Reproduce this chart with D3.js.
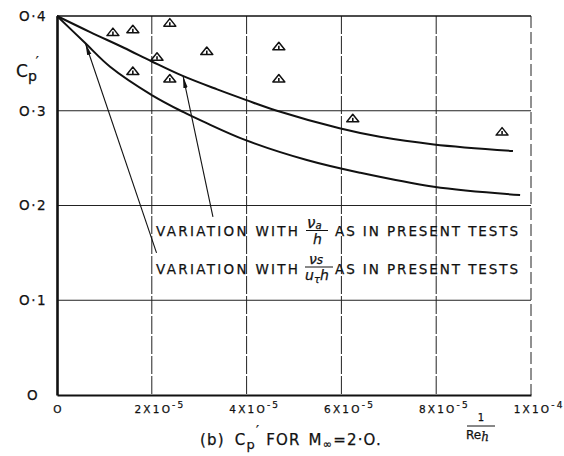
<!DOCTYPE html>
<html><head><meta charset="utf-8">
<script src="https://cdn.jsdelivr.net/npm/d3@7"></script>
<style>body{margin:0;background:#fff}svg{display:block}text{font-family:"DejaVu Sans",sans-serif;fill:#111;stroke:#111;stroke-width:0.25}</style>
</head><body><svg id="c" width="564" height="456"></svg>
<script>
// ---- data ----
const xTicks = [0, 2e-5, 4e-5, 6e-5, 8e-5, 1e-4];
const xTickBase = ["O", "2X1O", "4X1O", "6X1O", "8X1O", "1X1O"];
const xTickExp  = ["", "-5", "-5", "-5", "-5", "-4"];
const yTicks = [0, 0.1, 0.2, 0.3, 0.4];
const yTickLabels = ["O", "O·1", "O·2", "O·3", "O·4"];

// measured points (triangles)
const ptX = [1.18e-5, 1.60e-5, 2.38e-5, 2.11e-5, 1.60e-5, 2.38e-5, 3.16e-5, 4.68e-5, 4.68e-5, 6.24e-5, 9.39e-5];
const ptY = [0.383, 0.386, 0.393, 0.357, 0.342, 0.334, 0.363, 0.368, 0.334, 0.292, 0.278];

// curve: variation with nu_a/h
const upX = [0, 0.70e-5, 1.41e-5, 2.0e-5, 2.64e-5, 3.38e-5, 3.98e-5, 4.64e-5, 5.96e-5, 6.81e-5, 7.95e-5, 9.62e-5];
const upY = [0.4, 0.383, 0.3665, 0.352, 0.337, 0.3225, 0.3115, 0.300, 0.2815, 0.2725, 0.2645, 0.2575];
// curve: variation with nu_s/(u_tau h)
const loX = [0, 0.60e-5, 1.12e-5, 2.0e-5, 2.67e-5, 3.09e-5, 3.98e-5, 5.27e-5, 6.39e-5, 7.95e-5, 9.77e-5];
const loY = [0.4, 0.3712, 0.3465, 0.3166, 0.2985, 0.2885, 0.269, 0.248, 0.2346, 0.2198, 0.211];

// annotation arrows: [tailX, tailY, tipX, tipY]
const arrowLower = [2.10e-5, 0.150, 0.60e-5, 0.3712];
const arrowUpper = [3.29e-5, 0.188, 2.66e-5, 0.3365];

// ---- chart ----
const svg = d3.select("#c");
const x = d3.scaleLinear().domain([0, 1e-4]).range([57, 531]);
const y = d3.scaleLinear().domain([0, 0.4]).range([395, 16]);

const defs = svg.append("defs");
defs.append("marker").attr("id","ah").attr("viewBox","0 -3 12 6")
  .attr("refX",12).attr("refY",0).attr("markerWidth",12).attr("markerHeight",6)
  .attr("markerUnits","userSpaceOnUse").attr("orient","auto")
  .append("path").attr("d","M0,-2.2L12,0L0,2.2Z").attr("fill","#111");

// grid
const g = svg.append("g");
g.selectAll(".hg").data(yTicks.filter(d => d > 0 && d < 0.4)).join("line")
  .attr("x1", x(0)).attr("x2", x(1e-4)).attr("y1", d => y(d)).attr("y2", d => y(d))
  .attr("stroke", "#222").attr("stroke-width", 1);
g.selectAll(".vg").data(xTicks.filter(d => d > 0 && d < 1e-4)).join("line")
  .attr("x1", d => x(d)).attr("x2", d => x(d)).attr("y1", y(0.4)).attr("y2", y(0))
  .attr("stroke", "#222").attr("stroke-width", 1).attr("stroke-dasharray", "18,2");
// top & right border
g.append("line").attr("x1", x(0)).attr("x2", x(1e-4)).attr("y1", y(0.4)).attr("y2", y(0.4))
  .attr("stroke", "#111").attr("stroke-width", 1.6);
g.append("line").attr("x1", x(1e-4)).attr("x2", x(1e-4)).attr("y1", y(0.4)).attr("y2", y(0))
  .attr("stroke", "#222").attr("stroke-width", 1).attr("stroke-dasharray", "12,4");

// axes
const yAxis = svg.append("g").attr("transform", `translate(${x(0)},0)`)
  .call(d3.axisLeft(y).tickValues(yTicks).tickSize(0).tickSizeOuter(0)
    .tickFormat((d, i) => yTickLabels[i]));
yAxis.select(".domain").attr("stroke", "#111").attr("stroke-width", 2.6);
yAxis.selectAll(".tick text").attr("x", -24).attr("text-anchor", "middle")
  .attr("font-size", 13.5).attr("letter-spacing", 1.5)
  .attr("font-family", "DejaVu Sans").attr("fill", "#111");

const xAxis = svg.append("g").attr("transform", `translate(0,${y(0)})`)
  .call(d3.axisBottom(x).tickValues(xTicks).tickSize(0).tickSizeOuter(0).tickFormat(""));
xAxis.select(".domain").attr("stroke", "#111").attr("stroke-width", 2.2);
xAxis.selectAll(".tick").each(function(d, i) {
  const t = d3.select(this).append("text").attr("y", 18).attr("font-size", 10.5)
    .attr("letter-spacing", 2.2).attr("fill", "#111").attr("text-anchor", "start")
    .attr("font-family", "DejaVu Sans");
  t.append("tspan").text(xTickBase[i]);
  if (xTickExp[i]) t.append("tspan").attr("dy", -5).attr("font-size", 9).text(xTickExp[i]);
  const bw = t.select("tspan").node().getComputedTextLength();
  t.attr("x", -bw / 2 + 1);
});

// curves
const line = d3.line().x(d => x(d[0])).y(d => y(d[1])).curve(d3.curveCatmullRom.alpha(0.5));
svg.append("path").datum(d3.zip(upX, upY)).attr("d", line)
  .attr("fill", "none").attr("stroke", "#111").attr("stroke-width", 2);
svg.append("path").datum(d3.zip(loX, loY)).attr("d", line)
  .attr("fill", "none").attr("stroke", "#111").attr("stroke-width", 2);

// arrows
[arrowLower, arrowUpper].forEach(a => {
  svg.append("line").attr("x1", x(a[0])).attr("y1", y(a[1])).attr("x2", x(a[2])).attr("y2", y(a[3]))
    .attr("stroke", "#111").attr("stroke-width", 1.1).attr("marker-end", "url(#ah)");
});

// triangles
const tri = svg.append("g");
d3.zip(ptX, ptY).forEach(([px, py]) => {
  const cx = x(px), cy = y(py);
  tri.append("path").attr("d", `M${cx-6},${cy+3.5}L${cx+6},${cy+3.5}L${cx},${cy-4}Z`)
    .attr("fill", "#fff").attr("stroke", "#111").attr("stroke-width", 1.5).attr("stroke-linejoin", "round");
  tri.append("line").attr("x1", cx).attr("x2", cx).attr("y1", cy - 0.5).attr("y2", cy + 3)
    .attr("stroke", "#111").attr("stroke-width", 1.6);
});

// y label Cp'
const yl = svg.append("text").attr("x", 16).attr("y", 77).attr("font-size", 17);
yl.append("tspan").text("C");
yl.append("tspan").attr("dy", 4).attr("font-size", 14).text("p");
yl.append("tspan").attr("dy", -16).attr("dx", -1).attr("font-size", 13).text("′");

// annotations
function note(yb, fracFn) {
  svg.append("text").attr("x", 156).attr("y", yb).attr("font-size", 13.5)
    .attr("textLength", 142).attr("lengthAdjust", "spacing").text("VARIATION  WITH");
  svg.append("text").attr("x", 335).attr("y", yb).attr("font-size", 13.5)
    .attr("textLength", 183).attr("lengthAdjust", "spacing").text("AS IN PRESENT TESTS");
  fracFn(yb);
}
note(236, yb => {
  const n = svg.append("text").attr("x", 307).attr("y", yb - 8).attr("font-size", 15)
    .attr("font-family", "DejaVu Serif").attr("font-style", "italic");
  n.append("tspan").text("ν");
  n.append("tspan").attr("dy", 1).attr("font-size", 10).text("a");
  svg.append("line").attr("x1", 306).attr("x2", 328).attr("y1", yb - 5.5).attr("y2", yb - 5.5)
    .attr("stroke", "#111").attr("stroke-width", 1);
  svg.append("text").attr("x", 313).attr("y", yb + 8).attr("font-size", 14)
    .attr("font-family", "DejaVu Serif").attr("font-style", "italic").text("h");
});
note(274, yb => {
  const n = svg.append("text").attr("x", 309).attr("y", yb - 10).attr("font-size", 14)
    .attr("font-family", "DejaVu Serif").attr("font-style", "italic");
  n.append("tspan").text("ν");
  n.append("tspan").attr("font-size", 12).text("s");
  svg.append("line").attr("x1", 305).attr("x2", 333).attr("y1", yb - 7).attr("y2", yb - 7)
    .attr("stroke", "#111").attr("stroke-width", 1);
  const d = svg.append("text").attr("x", 305).attr("y", yb + 6).attr("font-size", 14)
    .attr("font-family", "DejaVu Serif").attr("font-style", "italic");
  d.append("tspan").text("u");
  d.append("tspan").attr("dy", 3).attr("font-size", 10).text("τ");
  d.append("tspan").attr("dy", -3).text("h");
});

// caption
const cap = svg.append("text").attr("x", 200).attr("y", 445).attr("font-size", 15).attr("letter-spacing", 1.2);
cap.append("tspan").text("(b)");
cap.append("tspan").attr("dx", 10).text("C");
cap.append("tspan").attr("dy", 4).attr("font-size", 13).text("p");
cap.append("tspan").attr("dy", -15).attr("font-size", 13).text("′");
cap.append("tspan").attr("dy", 11).attr("dx", 6).text("FOR");
cap.append("tspan").attr("dx", 8).text("M");
cap.append("tspan").attr("dy", 3).attr("font-size", 11).text("∞");
cap.append("tspan").attr("dy", -3).text("=2·O.");

// 1 / Re_h
svg.append("text").attr("x", 481).attr("y", 421).attr("font-size", 10).attr("text-anchor", "middle").text("1");
svg.append("line").attr("x1", 467).attr("x2", 495).attr("y1", 426).attr("y2", 426).attr("stroke", "#111").attr("stroke-width", 1);
const re = svg.append("text").attr("x", 466).attr("y", 439).attr("font-size", 12);
re.append("tspan").text("Re");
re.append("tspan").attr("dy", 2).attr("font-family", "DejaVu Serif").attr("font-style", "italic").attr("font-size", 12).text("h");
</script></body></html>
